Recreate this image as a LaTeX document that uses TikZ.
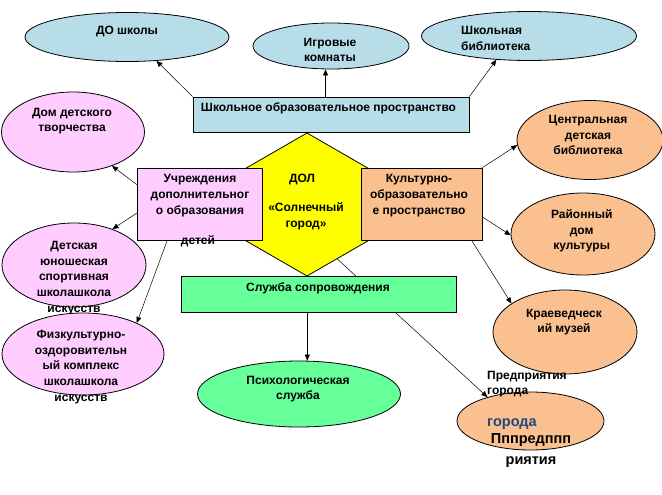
\documentclass[tikz,border=0pt]{standalone}
\usepackage{fontspec}
\setmainfont{Liberation Sans}
\usetikzlibrary{arrows.meta,shapes.geometric,calc}
\definecolor{cblue}{RGB}{183,221,232}
\definecolor{cpink}{RGB}{255,204,255}
\definecolor{cyel}{RGB}{255,255,0}
\definecolor{corange}{RGB}{250,192,143}
\definecolor{cgreen}{RGB}{102,255,153}
\definecolor{ctext}{RGB}{31,73,125}
\pgfdeclarelayer{bgfill}
\pgfdeclarelayer{bg}
\pgfsetlayers{bgfill,bg,main}
\tikzset{
 outl/.style={draw=black,line width=0.8pt},
 ell/.style={outl,ellipse,inner sep=0pt},
 boxn/.style={outl,rectangle,inner sep=0pt},
 txt/.style={font=\bfseries\fontsize{12}{15.7}\selectfont,align=center,inner sep=0pt},
 txtl/.style={font=\bfseries\fontsize{12}{15.7}\selectfont,align=left,inner sep=0pt,anchor=west},
 big/.style={font=\bfseries\fontsize{14.5}{21.5}\selectfont,align=center,inner sep=0pt},
 arr/.style={-{Triangle[length=6pt,width=5pt]},line width=0.5pt},
}
\begin{document}
\begin{tikzpicture}[x=1pt,y=-1pt]
\useasboundingbox (0,0) rectangle (662,495);
\begin{pgfonlayer}{bgfill}
\fill[white] (0,0) rectangle (662,495);
\end{pgfonlayer}
% top ellipses
\node[ell,fill=cblue,minimum width=204pt,minimum height=49pt] (dosh) at (127,37) {};
\node[txt] (tdosh) at (127,32) {ДО школы};
\node[ell,fill=cblue,minimum width=156pt,minimum height=46pt] (igr) at (331,46) {};
\node[txt] (tigr) at (330,50) {Игровые\\комнаты};
\node[ell,fill=cblue,minimum width=215pt,minimum height=49pt] (lib) at (529,36) {};
\node[txtl] (tlib) at (461,38.5) {Школьная\\библиотека};
% school space box
\node[boxn,fill=cblue,minimum width=276pt,minimum height=35pt] (blue) at (331,114.5) {};
\node[txt] (tblue) at (328.5,108.5) {Школьное образовательное пространство};
% left ellipses
\node[ell,fill=cpink,minimum width=143pt,minimum height=80pt] (ddt) at (73,132) {};
\node[txt] (tddt) at (72,121) {Дом детского\\творчества};
\node[ell,fill=cpink,minimum width=144pt,minimum height=84pt] (dju) at (74,265) {};
\node[txt] (tdju) at (74,278) {Детская\\юношеская\\спортивная\\школашкола\\искусств};
\node[ell,fill=cpink,minimum width=162pt,minimum height=82pt] (fiz) at (83,354) {};
\node[txt] (tfiz) at (81,367) {Физкультурно-\\оздоровительн\\ый комплекс\\школашкола\\искусств};
% hexagon
\begin{pgfonlayer}{bg}
\draw[outl,fill=cyel] (307,133) coordinate (htop) -- (369,168.75) -- (369,240.25) -- (307,276) coordinate (hbot) -- (245,240.25) -- (245,168.75) -- cycle;
\coordinate (hexe) at (337,258.7);
\end{pgfonlayer}
\node[txt] (tdol) at (302,180) {ДОЛ};
\node[txt] (tsol) at (306,216) {«Солнечный\\город»};
% side boxes
\node[boxn,fill=cpink,minimum width=125pt,minimum height=72pt] (pink) at (200,204) {};
\node[txt] (tpink) at (200,195.5) {Учреждения\\дополнительног\\о образования};
\node[txt] (tdet) at (198,241) {детей};
\node[boxn,fill=corange,minimum width=121pt,minimum height=72pt] (orng) at (421.5,204) {};
\node[txt] (torng) at (419,195.5) {Культурно-\\образовательно\\е пространство};
% right ellipses
\node[ell,fill=corange,minimum width=146pt,minimum height=79pt] (cdb) at (590,140) {};
\node[txt] (tcdb) at (588,135) {Центральная\\детская\\библиотека};
\node[ell,fill=corange,minimum width=144pt,minimum height=82pt] (rdk) at (583,234) {};
\node[txt] (trdk) at (581.7,231) {Районный\\дом\\культуры};
\node[ell,fill=corange,minimum width=144pt,minimum height=84pt] (muz) at (565,332) {};
\node[txt] (tmuz) at (564,322) {Краеведческ\\ий музей};
% service box
\node[boxn,fill=cgreen,minimum width=275pt,minimum height=35.5pt] (green) at (319.3,294.3) {};
\node[txt] (tgreen) at (318,288) {Служба сопровождения};
\node[ell,fill=cgreen,minimum width=203pt,minimum height=66pt] (psy) at (299,394) {};
\node[txt] (tpsy) at (298,389) {Психологическая\\служба};
% enterprises
\node[ell,fill=corange,minimum width=147pt,minimum height=58pt] (pred) at (530.5,421) {};
\node[txtl] (tpred1) at (487,384) {Предприятия\\города};
\node[big,anchor=west,text=ctext] (tpred2) at (487,424) {города};
\node[big] (tpred3) at (531,450.5) {Пппредппп\\риятия};
% connectors
\begin{pgfonlayer}{bg}
\draw[arr] (blue.north west) -- (dosh.-39);
\draw[arr] ([xshift=-5.5pt]blue.north) -- ([xshift=-5.5pt]blue.north |- igr.south);
\draw[arr] (blue.north east) -- (lib.-144);
\draw[arr] (pink.163) -- (ddt.-41);
\draw[arr] (pink.188) -- (dju.43);
\draw[arr] (pink.228) -- (fiz.30);
\draw[arr] (orng.north east) -- (cdb.184);
\draw[arr] (orng.-12) -- (rdk.181.6);
\draw[arr] (orng.-36.6) -- (muz.152.6);
\coordinate (gs) at ([xshift=-12pt]green.south);
\draw[arr] (gs) -- (gs |- psy.north);
\draw[arr] (hexe) -- (pred.151.9);
\end{pgfonlayer}
\end{tikzpicture}
\end{document}
